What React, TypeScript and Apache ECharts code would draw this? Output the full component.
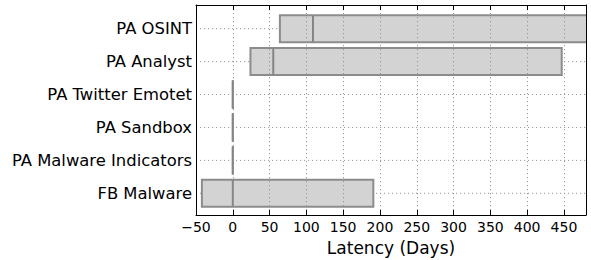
import React, { useEffect, useRef } from "react";
import * as echarts from "echarts";

const categories = [
  "FB Malware",
  "PA Malware Indicators",
  "PA Sandbox",
  "PA Twitter Emotet",
  "PA Analyst",
  "PA OSINT",
];
// box lower edge (Q1), median, upper edge (Q3) in days, bottom-to-top order
const q1Values = [-42, 0, 0, 0, 24, 64];
const medianValues = [0, 0, 0, 0, 55, 109];
const q3Values = [191, 0, 0, 0, 447, 520];
const xMin = -50;
const xMax = 480;

const FONT = "DejaVu Sans";

export default function App() {
  const ref = useRef<HTMLDivElement>(null);
  useEffect(() => {
    if (!ref.current) return;
    const chart = echarts.init(ref.current, null, { renderer: "svg" });
    const data = categories.map((_, i) => [i + 1, q1Values[i], medianValues[i], q3Values[i]]);
    const gridStyle = { stroke: "#999999", lineWidth: 1, lineDash: [1.2, 2.8] };
    const fmt = (v: number) => (v < 0 ? "\u2212" + Math.abs(v) : String(v));
    chart.setOption({
      animation: false,
      grid: { left: 196, right: 5, top: 5, bottom: 45, containLabel: false, outerBoundsMode: "none" },
      xAxis: [
        {
          type: "value",
          min: xMin,
          max: xMax,
          interval: 50,
          position: "bottom",
          z: 10,
          axisLine: { show: true, onZero: false, lineStyle: { color: "#000", width: 1 } },
          axisTick: { show: true, inside: true, length: 5, lineStyle: { color: "#000" } },
          axisLabel: {
            fontFamily: FONT,
            fontSize: 14,
            color: "#000",
            margin: 5,
            showMaxLabel: false,
            formatter: fmt,
          },
          splitLine: { show: true, lineStyle: { color: "#999999", type: [1.2, 2.8] as any, width: 1 } },
          name: "Latency (Days)",
          nameLocation: "middle",
          nameGap: 24,
          nameTextStyle: { fontFamily: FONT, fontSize: 17, color: "#000" },
        },
        {
          type: "value",
          min: xMin,
          max: xMax,
          interval: 50,
          position: "top",
          z: 10,
          axisLine: { show: true, onZero: false, lineStyle: { color: "#000", width: 1 } },
          axisTick: { show: true, inside: true, length: 5, lineStyle: { color: "#000" } },
          axisLabel: { show: false },
          splitLine: { show: false },
        },
      ],
      yAxis: [
        {
          type: "value",
          min: 0.34,
          max: 6.72,
          position: "left",
          z: 10,
          axisLine: { show: true, onZero: false, lineStyle: { color: "#000", width: 1 } },
          axisTick: { show: false, customValues: [1, 2, 3, 4, 5, 6] },
          axisLabel: {
            customValues: [1, 2, 3, 4, 5, 6],
            fontFamily: FONT,
            fontSize: 16.4,
            color: "#000",
            margin: 4,
            formatter: (v: number) => categories[Math.round(v) - 1] ?? "",
          },
          splitLine: { show: false },
        },
        {
          type: "value",
          min: 0.34,
          max: 6.72,
          position: "right",
          z: 10,
          axisLine: { show: true, onZero: false, lineStyle: { color: "#000", width: 1 } },
          axisTick: { show: false },
          axisLabel: { show: false },
          splitLine: { show: false },
        },
      ],
      series: [
        {
          type: "custom",
          xAxisIndex: 0,
          yAxisIndex: 0,
          clip: true,
          z: 1,
          silent: true,
          data,
          renderItem: (params: any, api: any) => {
            const y = api.value(0);
            const l = api.coord([xMin, y]);
            const r = api.coord([xMax, y]);
            return {
              type: "line",
              shape: { x1: l[0], y1: l[1], x2: r[0], y2: r[1] },
              style: gridStyle,
            };
          },
        },
        {
          type: "custom",
          xAxisIndex: 0,
          yAxisIndex: 0,
          clip: true,
          z: 2,
          data,
          renderItem: (params: any, api: any) => {
            const y = api.value(0);
            const a = api.coord([api.value(1), y]);
            const m = api.coord([api.value(2), y]);
            const b = api.coord([api.value(3), y]);
            const h = api.size([0, 0.82])[1];
            return {
              type: "group",
              children: [
                {
                  type: "rect",
                  shape: { x: a[0], y: a[1] - h / 2, width: Math.max(b[0] - a[0], 0.01), height: h },
                  style: { fill: "#d3d3d3", stroke: "#8c8c8c", lineWidth: 2 },
                },
                {
                  type: "line",
                  shape: { x1: m[0], y1: m[1] - h / 2, x2: m[0], y2: m[1] + h / 2 },
                  style: { stroke: "#858585", lineWidth: 2 },
                },
              ],
            };
          },
        },
      ],
    });
    return () => chart.dispose();
  }, []);
  return <div ref={ref} style={{ width: 591, height: 260, position: "absolute", left: 0, top: 0 }} />;
}
